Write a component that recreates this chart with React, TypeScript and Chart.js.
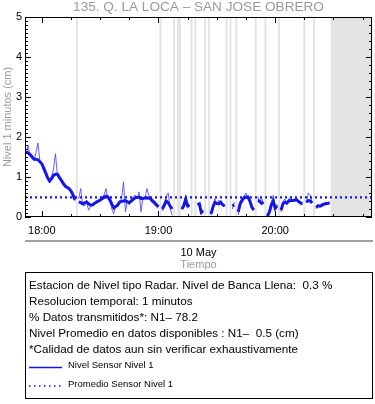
import React, { useEffect, useRef } from "react";
import { Chart, registerables } from "chart.js";

Chart.register(...registerables);

// ---------- text ----------
const TITLE = "135. Q. LA LOCA \u2013 SAN JOSE OBRERO";
const Y_TITLE = "Nivel 1 minutos (cm)";
const DATE_LABEL = "10 May";
const X_TITLE = "Tiempo";
const INFO_LINES = [
  "Estacion de Nivel tipo Radar. Nivel de Banca Llena:  0.3 %",
  "Resolucion temporal: 1 minutos",
  "% Datos transmitidos*: N1\u2013 78.2",
  "Nivel Promedio en datos disponibles : N1\u2013  0.5 (cm)",
  "*Calidad de datos aun sin verificar exhaustivamente",
];
const LEGEND_LABELS = ["Nivel Sensor Nivel 1", "Promedio Sensor Nivel 1"];

// ---------- axes (minutes since midnight) ----------
const X_MIN = 1071.35;
const X_MAX = 1249.8;
const HOUR_TICKS = [1080, 1140, 1200];
const HOUR_LABELS = ["18:00", "19:00", "20:00"];
const Y_MIN = 0;
const Y_MAX = 5;

// ---------- data: one value per minute starting at 17:52 ----------
const START_MINUTE = 1072;
const nivelSmooth: (number | null)[] = [
  1.63, 1.60, 1.56, 1.50, 1.45, 1.44, 1.43, 1.38, 1.33, 1.22,
  1.10, 0.98, 0.90, 0.96, 1.04, 1.07, 1.07, 0.99, 0.92, 0.84,
  0.78, 0.74, 0.71, 0.65, 0.56, 0.43, null, 0.38, 0.36, 0.33,
  0.35, 0.38, 0.33, 0.30, 0.30, 0.34, 0.37, 0.40, 0.42, 0.46,
  0.49, 0.52, 0.50, 0.43, 0.32, 0.23, 0.26, 0.30, 0.37, 0.39,
  0.40, 0.41, 0.38, 0.36, 0.40, 0.44, 0.48, 0.49, 0.50, 0.46,
  0.46, 0.48, 0.47, 0.48, 0.45, 0.40, 0.36, 0.30, 0.26, null,
  0.20, 0.30, 0.40, 0.36, 0.27, 0.20, null, null, null, null,
  0.20, 0.28, 0.44, 0.28, 0.29, null, 0.13, null, 0.31, 0.33,
  0.12, 0.15, null, 0.24, null, 0.08, 0.25, 0.36, 0.34, 0.33,
  0.37, 0.31, 0.27, null, 0.25, null, 0.28, 0.30, null, 0.13,
  0.33, 0.42, 0.48, 0.50, 0.50, 0.40, 0.25, 0.18, null, 0.40,
  0.40, 0.34, 0.37, null, 0.02, 0.12, 0.30, 0.40, 0.22, 0.28,
  null, 0.17, 0.33, 0.37, 0.35, 0.40, 0.41, 0.41, 0.42, 0.43,
  0.39, 0.35, 0.33, null, 0.37, 0.41, 0.40, 0.35, null, 0.24,
  0.28, 0.27, 0.29, 0.32, 0.33, 0.34, 0.35,
];
const nivelRaw: (number | null)[] = [
  1.60, 1.79, 1.50, 1.55, 1.40, 1.62, 1.85, 1.40, 1.30, 1.15,
  1.05, 0.95, 0.85, 1.00, 1.20, 1.58, 1.05, 0.95, 0.90, 0.80,
  0.72, 0.76, 0.70, 0.62, 0.50, 0.40, null, 0.45, 0.71, 0.30,
  0.28, 0.40, 0.17, 0.25, 0.32, 0.30, 0.40, 0.38, 0.45, 0.50,
  0.55, 0.71, 0.45, 0.40, 0.20, 0.08, 0.30, 0.25, 0.40, 0.45,
  0.88, 0.13, 0.40, 0.30, 0.45, 0.50, 0.55, 0.45, 0.63, 0.13,
  0.50, 0.45, 0.71, 0.55, 0.40, 0.35, 0.30, 0.25, 0.22, null,
  0.15, 0.35, 0.52, 0.60, 0.22, 0.04, null, null, null, null,
  0.18, 0.35, 0.55, 0.22, 0.30, null, 0.12, null, 0.35, 0.30,
  0.05, 0.18, null, 0.25, null, 0.04, 0.30, 0.46, 0.30, 0.42,
  0.35, 0.30, 0.25, null, 0.27, null, 0.20, 0.38, null, 0.05,
  0.40, 0.38, 0.52, 0.60, 0.45, 0.45, 0.20, 0.15, null, 0.52,
  0.35, 0.47, 0.33, null, 0.00, 0.15, 0.35, 0.54, 0.18, 0.32,
  null, 0.12, 0.40, 0.45, 0.30, 0.46, 0.50, 0.38, 0.45, 0.47,
  0.36, 0.38, 0.30, null, 0.35, 0.60, 0.55, 0.35, null, 0.20,
  0.32, 0.25, 0.35, 0.30, 0.38, 0.32, 0.36,
];
const PROMEDIO = 0.49;
const GAP_MINUTES = [1098, 1141, 1148, 1150, 1151, 1157, 1159, 1164, 1166, 1175, 1177, 1180, 1190, 1195, 1202, 1215, 1220];
const NO_DATA_FROM = 1228.5;

// ---------- styling ----------
const FONT = "'Liberation Sans', Arial, Helvetica, sans-serif";
const GREY_TEXT = "#9a9a9a";
const BAND = "#e3e3e3";
const BLUE = "rgb(20,20,235)";
const BLUE_THIN = "rgba(70,70,255,0.85)";
const W = 375;
const H = 404;

const idlPlugin = {
  id: "idlDecor",
  beforeDatasetsDraw(chart: any) {
    const { ctx, chartArea: a, scales } = chart;
    const x = scales.x;
    ctx.save();
    ctx.beginPath();
    ctx.rect(a.left, a.top, a.right - a.left, a.bottom - a.top);
    ctx.clip();
    ctx.fillStyle = BAND;
    const x0 = x.getPixelForValue(NO_DATA_FROM);
    ctx.fillRect(x0, a.top, a.right - x0, a.bottom - a.top);
    for (const g of GAP_MINUTES) {
      const l = x.getPixelForValue(g - 0.5);
      const r = x.getPixelForValue(g + 0.5);
      ctx.fillRect(l, a.top, r - l, a.bottom - a.top);
    }
    ctx.restore();
  },
  afterDraw(chart: any) {
    const { ctx, chartArea: a, scales } = chart;
    const x = scales.x;
    const y = scales.y;
    ctx.save();
    // axis box
    ctx.strokeStyle = "#000";
    ctx.lineWidth = 1;
    ctx.strokeRect(a.left + 0.5, a.top + 0.5, a.right - a.left - 1, a.bottom - a.top - 1);
    ctx.beginPath();
    // y ticks left (minor 0.1, major 1) and right (minor 0.2)
    for (let i = Y_MIN * 10; i <= Y_MAX * 10; i++) {
      const v = i / 10;
      const py = Math.round(y.getPixelForValue(v)) + 0.5;
      const major = i % 10 === 0;
      ctx.moveTo(a.left, py);
      ctx.lineTo(a.left + (major ? 6 : 3), py);
      if (i % 2 === 0) {
        ctx.moveTo(a.right, py);
        ctx.lineTo(a.right - (major ? 6 : 3), py);
      }
    }
    // x ticks: major each hour, minor each 15 minutes
    for (let m = Math.ceil(X_MIN / 15) * 15; m <= X_MAX; m += 15) {
      const px = Math.round(x.getPixelForValue(m)) + 0.5;
      const major = m % 60 === 0;
      const len = major ? 6 : 3;
      ctx.moveTo(px, a.bottom);
      ctx.lineTo(px, a.bottom - len);
      ctx.moveTo(px, a.top);
      ctx.lineTo(px, a.top + len);
    }
    ctx.stroke();

    const cx = (a.left + a.right) / 2;
    // title
    ctx.fillStyle = GREY_TEXT;
    ctx.font = `13.6px ${FONT}`;
    ctx.textAlign = "center";
    ctx.textBaseline = "middle";
    ctx.fillText(TITLE, cx, 7.5);

    // separator line
    ctx.strokeStyle = "#a0a0a0";
    ctx.lineWidth = 2;
    ctx.beginPath();
    ctx.moveTo(a.left, 241);
    ctx.lineTo(a.right + 1, 241);
    ctx.stroke();

    // date + axis title
    ctx.fillStyle = "#000";
    ctx.font = `11px ${FONT}`;
    ctx.fillText(DATE_LABEL, cx, 253);
    ctx.fillStyle = GREY_TEXT;
    ctx.fillText(X_TITLE, cx, 265);

    // info box
    const bx = a.left + 0.5;
    const by = 272.5;
    const bw = a.right - a.left;
    const bh = 126;
    ctx.strokeStyle = "#000";
    ctx.lineWidth = 1;
    ctx.strokeRect(bx, by, bw, bh);
    ctx.fillStyle = "#000";
    ctx.textAlign = "left";
    ctx.font = `11.7px ${FONT}`;
    INFO_LINES.forEach((t, i) => ctx.fillText(t, 29, 286 + i * 16));

    // legend
    ctx.font = `9.5px ${FONT}`;
    ctx.fillText(LEGEND_LABELS[0], 68, 365);
    ctx.fillText(LEGEND_LABELS[1], 68, 384);
    ctx.strokeStyle = BLUE;
    ctx.lineWidth = 1.5;
    ctx.beginPath();
    ctx.moveTo(29, 367.5);
    ctx.lineTo(62, 367.5);
    ctx.stroke();
    ctx.setLineDash([1.5, 3.5]);
    ctx.beginPath();
    ctx.moveTo(29, 386);
    ctx.lineTo(62, 386);
    ctx.stroke();
    ctx.restore();
  },
};

export default function App() {
  const ref = useRef<HTMLCanvasElement | null>(null);
  useEffect(() => {
    if (!ref.current) return;
    const toPts = (arr: (number | null)[]) => arr.map((v, i) => ({ x: START_MINUTE + i, y: v }));
    const chart = new Chart(ref.current, {
      type: "line",
      data: {
        datasets: [
          {
            label: "Promedio Sensor Nivel 1",
            data: [
              { x: X_MIN, y: PROMEDIO },
              { x: X_MAX, y: PROMEDIO },
            ],
            borderColor: BLUE,
            borderWidth: 2.2,
            borderDash: [2, 3],
            pointRadius: 0,
            order: 0,
          },
          {
            label: "Nivel Sensor Nivel 1",
            data: toPts(nivelSmooth),
            borderColor: BLUE,
            borderWidth: 3,
            pointRadius: 0,
            spanGaps: false,
            tension: 0,
            order: 1,
          },
          {
            label: "Nivel crudo",
            data: toPts(nivelRaw),
            borderColor: BLUE_THIN,
            borderWidth: 1,
            pointRadius: 0,
            spanGaps: false,
            tension: 0,
            order: 2,
          },
        ],
      },
      options: {
        animation: false,
        responsive: false,
        maintainAspectRatio: false,
        layout: { padding: { top: 17, right: 3, left: 0, bottom: 0 } },
        plugins: { legend: { display: false }, tooltip: { enabled: false }, title: { display: false } },
        scales: {
          x: {
            type: "linear",
            min: X_MIN,
            max: X_MAX,
            grid: { display: false, drawTicks: false },
            border: { display: false },
            afterBuildTicks: (s: any) => {
              s.ticks = HOUR_TICKS.map((v) => ({ value: v }));
            },
            afterFit: (s: any) => {
              s.height = H - 217;
            },
            ticks: {
              autoSkip: false,
              maxRotation: 0,
              padding: 7,
              color: "#000",
              font: { family: FONT, size: 11 },
              callback: (v: any) => {
                const i = HOUR_TICKS.indexOf(Number(v));
                return i >= 0 ? HOUR_LABELS[i] : "";
              },
            },
          },
          y: {
            min: Y_MIN,
            max: Y_MAX,
            grid: { display: false, drawTicks: false },
            border: { display: false },
            afterFit: (s: any) => {
              s.width = 25;
            },
            ticks: {
              stepSize: 1,
              padding: 3,
              color: "#000",
              font: { family: FONT, size: 11 },
            },
            title: {
              display: true,
              text: Y_TITLE,
              color: GREY_TEXT,
              font: { family: FONT, size: 11 },
              padding: { top: 1, bottom: 0 },
            },
          },
        },
      },
      plugins: [idlPlugin],
    });
    return () => chart.destroy();
  }, []);
  return (
    <div style={{ position: "fixed", left: 0, top: 0, width: W, height: H, background: "#fff" }}>
      <canvas ref={ref} width={W} height={H} style={{ width: W, height: H }} />
    </div>
  );
}
